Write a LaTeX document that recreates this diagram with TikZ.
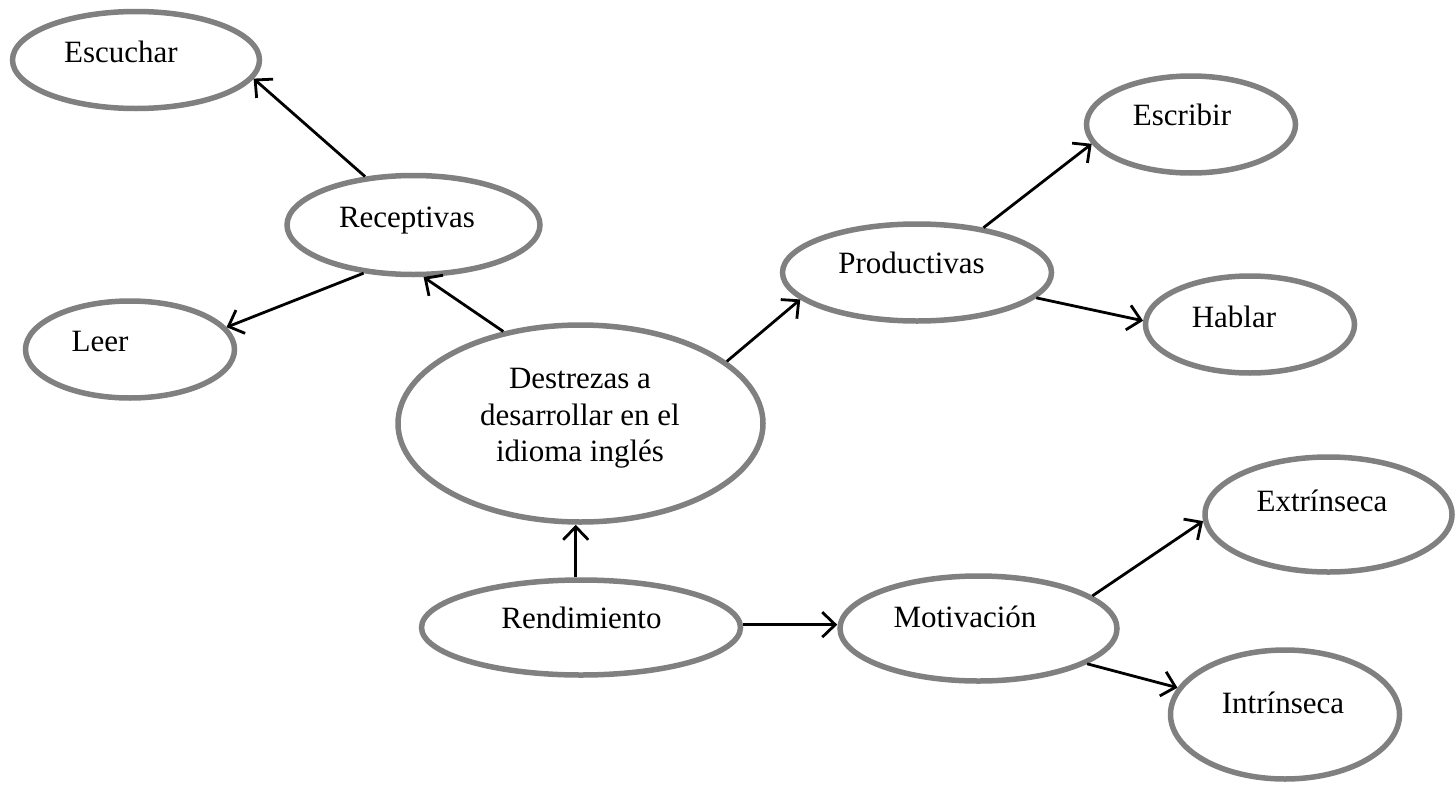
\documentclass[tikz,border=0pt]{standalone}
\usepackage{fontspec}
\setmainfont{Liberation Serif}
\usetikzlibrary{shapes.geometric,arrows.meta}
\definecolor{elgray}{RGB}{128,128,128}
\tikzset{
  oval/.style n args={2}{ellipse, draw=elgray, line width=5.5pt, fill=white,
    minimum width=#1, minimum height=#2, inner sep=0pt},
  lbl/.style={anchor=base, inner sep=0pt, font=\fontsize{31}{36.5}\selectfont},
  conn/.style={line width=2.8pt, -{Straight Barb[length=13pt, width=25pt, line width=2.8pt]}}
}
\begin{document}
\begin{tikzpicture}[x=1pt, y=-1pt]
\useasboundingbox (0,0) rectangle (1456,787);
% ellipses
\node[oval={247pt}{97pt}]  (esc)  at (136,60) {};
\node[oval={253pt}{99pt}]  (rec)  at (413.5,225) {};
\node[oval={209pt}{97pt}]  (leer) at (130,349.5) {};
\node[oval={365pt}{197pt}] (des)  at (580.5,423.5) {};
\node[oval={269pt}{97pt}]  (prod) at (917,272.5) {};
\node[oval={209pt}{97pt}]  (escr) at (1191,124.5) {};
\node[oval={209pt}{97pt}]  (habl) at (1250,324.5) {};
\node[oval={247pt}{115pt}] (ext)  at (1328.5,514.5) {};
\node[oval={229pt}{129pt}] (intr) at (1285,714.5) {};
\node[oval={319pt}{95pt}]  (rend) at (581,627.5) {};
\node[oval={277pt}{105pt}] (mot)  at (978.5,628.5) {};
% labels
\node[lbl] (tesc)  at (121,62) {Escuchar};
\node[lbl] (trec)  at (407,227) {Receptivas};
\node[lbl] (tleer) at (100,351) {Leer};
\node[anchor=center, inner sep=0pt, align=center, font=\fontsize{31}{36.5}\selectfont] (tdes) at (580,418.5) {Destrezas a\\desarrollar en el\\idioma inglés};
\node[lbl] (tprod) at (911.5,273) {Productivas};
\node[lbl] (tescr) at (1182,125) {Escribir};
\node[lbl] (thabl) at (1234,327) {Hablar};
\node[lbl] (text)  at (1322,511) {Extrínseca};
\node[lbl] (tintr) at (1283,713) {Intrínseca};
\node[lbl] (trend) at (581.5,628) {Rendimiento};
\node[lbl] (tmot)  at (965,627) {Motivación};
% connectors
\draw[conn] (rec.135.3) -- (esc.351.5);
\draw[conn] (rec.224.2) -- (leer.13.4);
\draw[conn] (des.130.9) -- (rec.281.4);
\draw[conn] (des.23) -- (prod.193);
\draw[conn] (prod.34.9) -- (escr.191.1);
\draw[conn] (prod.348.1) -- (habl.178.7);
\draw[conn] (rend.96) -- (rend.96 |- des.south);
\draw[conn] (rend.1.2) -- (rend.1.2 -| mot.west);
\draw[conn] (mot.16.3) -- (ext.183.8);
\draw[conn] (mot.342.7) -- (intr.166.9);
\end{tikzpicture}
\end{document}
